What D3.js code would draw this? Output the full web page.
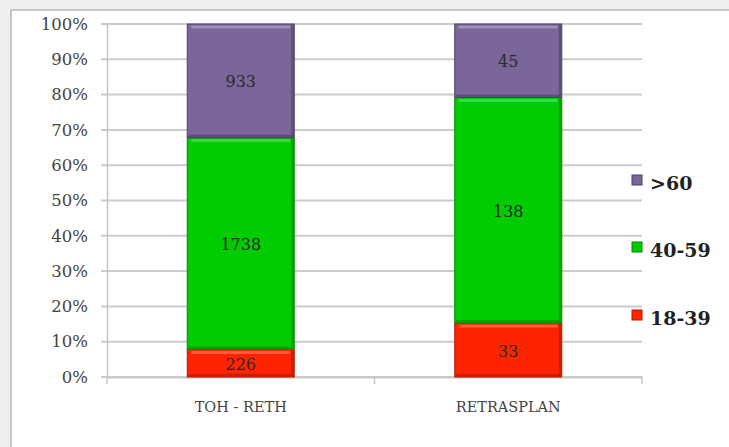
<!DOCTYPE html>
<html><head><meta charset="utf-8">
<script src="https://cdn.jsdelivr.net/npm/d3@7"></script>
<style>
html,body{margin:0;padding:0;background:#efefef;}
svg{display:block;}
</style></head>
<body>
<svg id="chart" width="729" height="447"></svg>
<script>
const categories = ["TOH - RETH", "RETRASPLAN"];
const seriesNames = ["18-39", "40-59", ">60"];
const seriesColors = ["#ff2400", "#00cc00", "#7b6699"];
const values18_39 = [226, 33];
const values40_59 = [1738, 138];
const values60plus = [933, 45];
const yTicks = [0, 0.1, 0.2, 0.3, 0.4, 0.5, 0.6, 0.7, 0.8, 0.9, 1.0];

const seriesValues = [values18_39, values40_59, values60plus];
const rows = categories.map((c, i) => {
  const r = {cat: c};
  seriesNames.forEach((s, j) => r[s] = seriesValues[j][i]);
  return r;
});
const stack = d3.stack().keys(seriesNames).offset(d3.stackOffsetExpand);
const stacked = stack(rows);

const FONT = "DejaVu Serif, serif";
const svg = d3.select("#chart");
// frame
svg.append("rect").attr("x", 11).attr("y", 10).attr("width", 740).attr("height", 450)
  .attr("fill", "#fff").attr("stroke", "#b8b8b8").attr("stroke-width", 1.5);

const m = {left: 107, right: 642, top: 24, bottom: 377};
const x = d3.scaleBand().domain(categories).range([m.left, m.right]).padding(0);
const y = d3.scaleLinear().domain([0, 1]).range([m.bottom, m.top]);

// gridlines
svg.append("g").selectAll("line").data(yTicks).join("line")
  .attr("x1", m.left - 6).attr("x2", m.right)
  .attr("y1", d => y(d)).attr("y2", d => y(d))
  .attr("stroke", "#cbcbcb").attr("stroke-width", 2);

// y axis
const yAxis = d3.axisLeft(y).tickValues(yTicks).tickFormat(d3.format(".0%")).tickSize(0).tickPadding(19);
const ya = svg.append("g").attr("transform", `translate(${m.left},0)`).call(yAxis);
ya.select(".domain").attr("stroke", "#c4c4c4").attr("stroke-width", 1.5);
ya.selectAll("text").attr("font-family", FONT).attr("font-size", 16.5).attr("fill", "#444");

// x axis
const xAxis = d3.axisBottom(x).tickSize(0).tickPadding(25);
const xa = svg.append("g").attr("transform", `translate(0,${m.bottom})`).call(xAxis);
xa.select(".domain").attr("stroke", "#c8c8c8").attr("stroke-width", 2);
xa.selectAll("text").attr("font-family", FONT).attr("font-size", 14.5).attr("fill", "#444");
const catTicks = [m.left, m.left + x.step(), m.right];
svg.selectAll("line.ct").data(catTicks).join("line")
  .attr("x1", d => d).attr("x2", d => d).attr("y1", m.bottom).attr("y2", m.bottom + 7)
  .attr("stroke", "#c4c4c4").attr("stroke-width", 1.5);

// bars
const barW = x.bandwidth() * 0.4;
const dark = ["#b01800", "#008800", "#4e3f66"];
const light = ["#ff6a4c", "#44e044", "#a899c4"];
const layer = svg.append("g").selectAll("g").data(stacked).join("g");
layer.each(function(s, j) {
  const sel = d3.select(this);
  s.forEach((d, i) => {
    const cx = x(categories[i]) + x.bandwidth() / 2;
    const x0 = cx - barW / 2;
    const y0 = y(d[1]), y1 = y(d[0]);
    sel.append("rect").attr("x", x0).attr("y", y0).attr("width", barW).attr("height", y1 - y0)
      .attr("fill", seriesColors[j]).attr("stroke", dark[j]).attr("stroke-width", 1);
    sel.append("rect").attr("x", x0 + 4).attr("y", y0 + 1.5).attr("width", barW - 8).attr("height", 3)
      .attr("fill", light[j]).attr("opacity", 0.8);
    sel.append("rect").attr("x", x0 + barW - 3).attr("y", y0 + 1).attr("width", 2.5).attr("height", y1 - y0 - 2)
      .attr("fill", dark[j]).attr("opacity", 0.6);
    sel.append("rect").attr("x", x0 + 1).attr("y", y1 - 3).attr("width", barW - 2).attr("height", 2.5)
      .attr("fill", dark[j]).attr("opacity", 0.6);
    sel.append("text").attr("x", cx).attr("y", (y0 + y1) / 2 + 1).attr("dy", "0.35em")
      .attr("text-anchor", "middle").attr("font-family", FONT)
      .attr("font-size", 16).attr("fill", "#2a2a2a").text(seriesValues[j][i]);
  });
});

// legend
const legendY = [318, 250, 183];
const lg = svg.append("g");
seriesNames.forEach((s, j) => {
  lg.append("rect").attr("x", 632).attr("y", legendY[j] - 8).attr("width", 10).attr("height", 10)
    .attr("fill", seriesColors[j]).attr("stroke", dark[j]).attr("stroke-width", 1);
  lg.append("text").attr("x", 650).attr("y", legendY[j]).attr("dy", "0.35em")
    .attr("font-family", FONT).attr("font-weight", "bold")
    .attr("font-size", 19).attr("fill", "#222").text(s);
});
</script>
</body></html>
